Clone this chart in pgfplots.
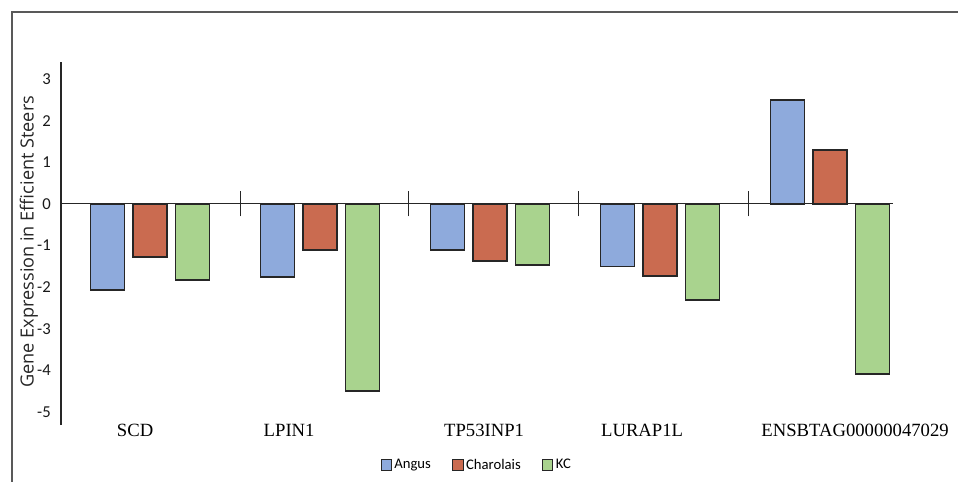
\documentclass[border=0pt]{standalone}
\usepackage{pgfplots}
\pgfplotsset{compat=1.18}
\usepackage{fontspec}
\setmainfont{Liberation Serif}
\newfontfamily\carlito{Carlito}
\newfontfamily\opensans{Open Sans}
\definecolor{angus}{HTML}{8EAADC}
\definecolor{charolais}{HTML}{CA6B50}
\definecolor{kc}{HTML}{A9D38E}
\definecolor{edge}{HTML}{262626}
\begin{document}
\begin{tikzpicture}
\begin{axis}[
  scale only axis, width=624pt, height=272.25pt,
  xmin=-0.524, xmax=4.37, ymin=-5.31, ymax=3.41,
  axis x line=middle, axis y line=left,
  axis line style={-, line width=0.8pt, black!85},
  clip=false,
  ybar, bar width=0.2,
  xtick={-0.088,0.818,1.965,2.894,4.147},
  xticklabels={SCD,LPIN1,TP53INP1,LURAP1L,ENSBTAG00000047029},
  xticklabel style={anchor=center, yshift=-165.75pt, font=\fontsize{14}{16}\selectfont},
  x tick style={draw=none},
  extra x ticks={0.53,1.52,2.52,3.52},
  extra x tick labels={},
  extra x tick style={x tick style={draw=black!85, line width=0.8pt}, major tick length=18.75pt, tick align=center},
  ytick={-5,-4,-3,-2,-1,0,1,2,3},
  y tick style={draw=none},
  yticklabel style={font=\carlito\fontsize{12.5}{14}\selectfont, xshift=-2pt, text=black!90},
  /pgf/number format/assume math mode=true,
  ylabel={Gene Expression in Efficient Steers},
  every axis y label/.style={at={(axis description cs:-0.0385,0.505)}, rotate=90, anchor=center, font=\opensans\fontsize{13.6}{15}\selectfont, text=black!85},
  legend style={at={(axis description cs:0.5,-0.11)}, anchor=center, draw=none, fill=none, legend columns=-1,
    font=\carlito\fontsize{11}{13}\selectfont,
    /tikz/every even column/.append style={column sep=14pt}},
  legend image code/.code={\draw[#1, line width=0.6pt] (0pt,-3.9pt) rectangle (7.8pt,3.9pt);},
]
\addplot[fill=angus, draw=edge, line width=1.2pt, bar shift=-0.25] coordinates {(0,-2.07) (1,-1.76) (2,-1.11) (3,-1.50) (4,2.50)};
\addplot[fill=charolais, draw=edge, line width=1.2pt, bar shift=0] coordinates {(0,-1.28) (1,-1.11) (2,-1.37) (3,-1.73) (4,1.30)};
\addplot[fill=kc, draw=edge, line width=1.2pt, bar shift=0.25] coordinates {(0,-1.83) (1,-4.49) (2,-1.46) (3,-2.30) (4,-4.09)};
\legend{Angus,Charolais,KC}
\coordinate (bl) at (rel axis cs:-0.07332,-0.15427);
\coordinate (tr) at (rel axis cs:1.07813,1.17080);
\coordinate (fl) at (rel axis cs:-0.05889,-0.2);
\coordinate (ft) at (rel axis cs:-0.05889,1.13774);
\coordinate (fr) at (rel axis cs:1.2,1.13774);
\end{axis}
\draw[line width=1.1pt, color=black!65] (fl) -- (ft) -- (fr);
\pgfresetboundingbox
\path[use as bounding box] (bl) rectangle (tr);
\end{tikzpicture}
\end{document}
